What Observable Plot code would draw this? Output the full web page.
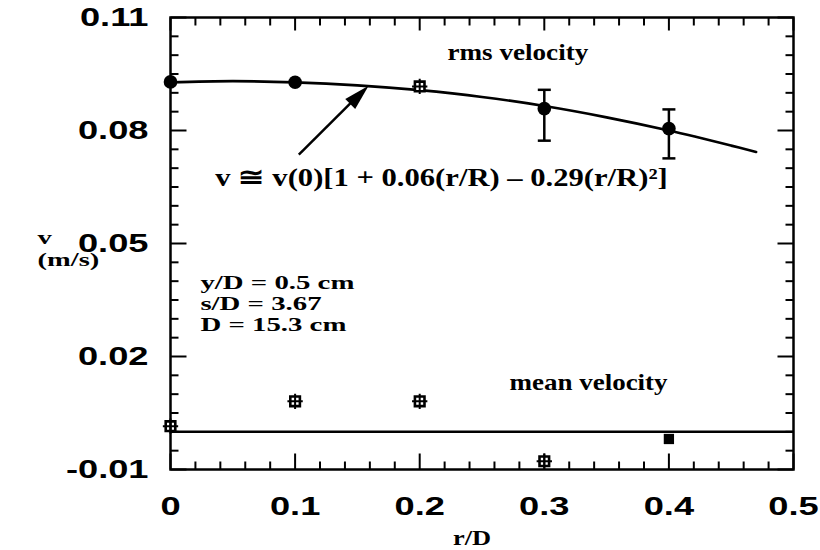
<!DOCTYPE html>
<html>
<head>
<meta charset="utf-8">
<script src="https://cdn.jsdelivr.net/npm/d3@7"></script>
<script src="https://cdn.jsdelivr.net/npm/@observablehq/plot@0.6"></script>
<style>
  body { margin: 0; background: #fff; }
  svg { display: block; }
</style>
</head>
<body>
<div id="chart"></div>
<script>
// rms velocity measurements (r/D, v in m/s)
const rmsR = [0, 0.1, 0.2, 0.3, 0.4];
const rmsV = [0.0929, 0.0928, 0.0917, 0.0858, 0.0805];
const rmsMarker = ["circle", "circle", "boxed", "circle", "circle"];

// error bars on the rms points
const errR = [0.3, 0.4];
const errLo = [0.0773, 0.0726];
const errHi = [0.0908, 0.0856];

// mean velocity measurements
const meanR = [0, 0.1, 0.2, 0.3, 0.4];
const meanV = [0.0015, 0.0081, 0.0081, -0.0078, -0.0019];
const meanMarker = ["boxed", "boxed", "boxed", "boxed", "filled"];

// fitted profile v = v(0)[1 + 0.06(r/R) - 0.29(r/R)^2], sampled along r/D
const fitR = [0, 0.05, 0.1, 0.15, 0.2, 0.25, 0.3, 0.35, 0.4, 0.45, 0.47];
const fitV = [0.0928, 0.0931, 0.0928, 0.0920, 0.0907, 0.0889, 0.0865, 0.0835, 0.0800, 0.0760, 0.0743];

// axis ticks and labels
const xTicks = [0, 0.1, 0.2, 0.3, 0.4, 0.5];
const xTickLabels = ["0", "0.1", "0.2", "0.3", "0.4", "0.5"];
const yTicks = [-0.01, 0.02, 0.05, 0.08, 0.11];
const yTickLabels = ["-0.01", "0.02", "0.05", "0.08", "0.11"];
const xMinorStep = 0.02;
const yMinorStep = 0.005;

// annotation text
const formulaText = "v \u2245 v(0)[1 + 0.06(r/R) \u2013 0.29(r/R)\u00B2]";
const paramLines = ["y/D = 0.5 cm", "s/D = 3.67", "D = 15.3 cm"];
const yLabelLines = ["v", "(m/s)"];

const serif = "'Liberation Serif', 'Times New Roman', serif";
const sans = "'Liberation Sans', Arial, sans-serif";
const LW = 2.5;

const W = 820, H = 550;
const M = {top: 17, right: 27, bottom: 81, left: 170};
const xDomain = [0, 0.5];
const yDomain = [-0.01, 0.11];
// data units per pixel, used to size ticks, caps and line spacing
const pxX = (xDomain[1] - xDomain[0]) / (W - M.left - M.right);
const pxY = (yDomain[1] - yDomain[0]) / (H - M.top - M.bottom);

const rms = rmsR.map((r, i) => ({r, v: rmsV[i], marker: rmsMarker[i]}));
const err = errR.map((r, i) => ({r, lo: errLo[i], hi: errHi[i]}));
const mean = meanR.map((r, i) => ({r, v: meanV[i], marker: meanMarker[i]}));
const fit = fitR.map((r, i) => ({r, v: fitV[i]}));
const boxed = [...rms, ...mean].filter(d => d.marker === "boxed");
const filledSq = mean.filter(d => d.marker === "filled");
const circles = rms.filter(d => d.marker === "circle");

const xMinor = d3.range(0, 26).map(i => +(i * xMinorStep).toFixed(3)).filter(v => v <= 0.5 && !xTicks.some(t => Math.abs(t - v) < 1e-9));
const yMinor = d3.range(0, 25).map(i => +(-0.01 + i * yMinorStep).toFixed(4)).filter(v => v <= 0.11 && !yTicks.some(t => Math.abs(t - v) < 1e-9));

// inward ticks on the four sides of the frame, drawn as short links
function sideTicks(values, len, side) {
  const o = {stroke: "black", strokeWidth: 2};
  const vals = values.slice();
  if (side === "left") return Plot.link(vals, {...o, x1: xDomain[0], x2: xDomain[0] + len * pxX, y1: d => d, y2: d => d});
  if (side === "right") return Plot.link(vals, {...o, x1: xDomain[1], x2: xDomain[1] - len * pxX, y1: d => d, y2: d => d});
  if (side === "bottom") return Plot.link(vals, {...o, x1: d => d, x2: d => d, y1: yDomain[0], y2: yDomain[0] + len * pxY});
  return Plot.link(vals, {...o, x1: d => d, x2: d => d, y1: yDomain[1], y2: yDomain[1] - len * pxY});
}

const serifText = {fontFamily: serif, fontWeight: "bold", fill: "black", stroke: "none"};
const capHalf = 6.5 * pxX;

const chart = Plot.plot({
  width: W,
  height: H,
  marginLeft: M.left,
  marginRight: M.right,
  marginTop: M.top,
  marginBottom: M.bottom,
  style: {fontFamily: sans, background: "white", color: "black", overflow: "visible"},
  x: {domain: xDomain},
  y: {domain: yDomain},
  marks: [
    // zero line
    Plot.ruleY([0], {strokeWidth: LW}),
    // fitted rms profile
    Plot.line(fit, {x: "r", y: "v", curve: "catmull-rom", strokeWidth: 2.7}),
    // error bars with caps
    Plot.ruleX(err, {x: "r", y1: "lo", y2: "hi", strokeWidth: LW}),
    Plot.link(err, {x1: d => d.r - capHalf, x2: d => d.r + capHalf, y1: "lo", y2: "lo", strokeWidth: LW}),
    Plot.link(err, {x1: d => d.r - capHalf, x2: d => d.r + capHalf, y1: "hi", y2: "hi", strokeWidth: LW}),
    // markers
    Plot.dot(circles, {x: "r", y: "v", r: 6.8, fill: "black", stroke: "none"}),
    Plot.dot(boxed, {x: "r", y: "v", symbol: "square", r: 5.4, fill: "white", stroke: "black", strokeWidth: 2.6}),
    Plot.dot(boxed, {x: "r", y: "v", symbol: "plus", r: 5, stroke: "black", strokeWidth: 2}),
    Plot.dot(filledSq, {x: "r", y: "v", symbol: "square", r: 5.8, fill: "black", stroke: "none"}),
    // arrow pointing at the fit curve
    Plot.link([0], {x1: 0.103, y1: 0.0736, x2: 0.152, y2: 0.0897, strokeWidth: LW}),
    Plot.vector([0], {x: 0.159, y: 0.0919, anchor: "end", length: 26, rotate: 45, shape: "spike", r: 7, fill: "black", stroke: "none"}),
    // ticks
    sideTicks(yMinor, 8, "left"),
    sideTicks(yTicks, 16, "left"),
    sideTicks(yMinor, 8, "right"),
    sideTicks(yTicks, 16, "right"),
    sideTicks(xMinor, 8, "bottom"),
    sideTicks(xTicks, 16, "bottom"),
    sideTicks(xMinor, 8, "top"),
    sideTicks(xTicks, 13, "top"),
    Plot.frame({stroke: "black", strokeWidth: LW}),
    // axis labels
    Plot.axisX(xTicks.slice(), {tickSize: 0, tickPadding: 28, label: null,
      tickFormat: d => xTickLabels[xTicks.findIndex(t => Math.abs(t - d) < 1e-9)],
      fontSize: 25, fontWeight: "bold"}),
    Plot.axisY(yTicks.slice(), {tickSize: 0, tickPadding: 22, label: null,
      tickFormat: d => yTickLabels[yTicks.findIndex(t => Math.abs(t - d) < 1e-9)],
      fontSize: 25, fontWeight: "bold"}),
    Plot.text(yLabelLines.slice(0, 1), {frameAnchor: "left", dx: -133, dy: -6, fontSize: 19, ...serifText}),
    Plot.text(yLabelLines.slice(1), {frameAnchor: "left", dx: -133, dy: 16, fontSize: 19, ...serifText}),
    Plot.text(["r/D"], {frameAnchor: "bottom", dx: -10, dy: 75, lineAnchor: "bottom", fontSize: 22, ...serifText}),
    // annotations
    Plot.text(["rms velocity"], {x: 0.2223, y: 0.0986, textAnchor: "start", lineAnchor: "bottom", fontSize: 22.6, ...serifText}),
    Plot.text(["mean velocity"], {x: 0.272, y: 0.0110, textAnchor: "start", lineAnchor: "bottom", fontSize: 22.5, ...serifText}),
    Plot.text([formulaText], {x: 0.036, y: 0.0652, textAnchor: "start", lineAnchor: "bottom", fontSize: 25.5, ...serifText}),
    Plot.text(paramLines, {x: 0.024, y: (d, i) => 0.0269 + (paramLines.length - 1 - i) * 21 * pxY,
      textAnchor: "start", lineAnchor: "bottom", fontSize: 18, ...serifText})
  ]
});

document.getElementById("chart").append(chart);

// widen the lettering horizontally
const widthByLine = new Map([
  ...paramLines.map(s => [s, 1.6]),
  ...yLabelLines.map(s => [s, 1.5])
]);
chart.querySelectorAll("text").forEach(t => {
  const g = t.closest("g[aria-label]");
  const isTick = g && /tick label$/.test(g.getAttribute("aria-label"));
  const k = widthByLine.get(t.textContent) ?? (isTick ? 1.45 : 1.2);
  const w = t.getComputedTextLength();
  if (w > 0) {
    t.setAttribute("textLength", (w * k).toFixed(1));
    t.setAttribute("lengthAdjust", "spacingAndGlyphs");
  }
});
</script>
</body>
</html>
